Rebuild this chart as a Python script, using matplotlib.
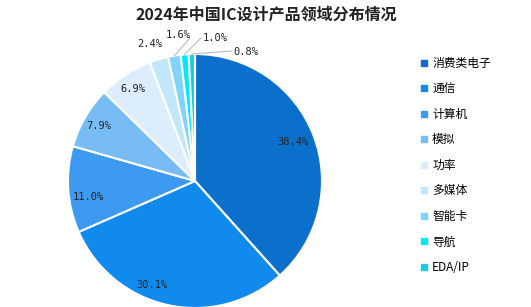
import numpy as np
import matplotlib.pyplot as plt
from matplotlib.lines import Line2D

plt.rcParams['font.family'] = ['Noto Sans CJK SC', 'DejaVu Sans']

# 数据
categories = ['消费类电子', '通信', '计算机', '模拟', '功率', '多媒体', '智能卡', '导航', 'EDA/IP']
values = [38.4, 30.1, 11.0, 7.9, 6.9, 2.4, 1.6, 1.0, 0.8]
colors = ['#0B70CC', '#118AEE', '#3C9BF0', '#78BCF6', '#DCEEFD',
          '#C2E6FA', '#7ED4FA', '#00E8FA', '#18CDE6']

W, H = 531, 307
fig = plt.figure(figsize=(W / 100, H / 100), dpi=100)

# 饼图区域 (中心 195,181 像素, 半径 127)
cx, cy, r = 195, 181, 127
ax = fig.add_axes([(cx - r) / W, (H - cy - r) / H, 2 * r / W, 2 * r / H])
wedges, _ = ax.pie(values, colors=colors, startangle=90, counterclock=False,
                   radius=1, wedgeprops=dict(edgecolor='white', linewidth=1.5))
ax.set_xlim(-1, 1)
ax.set_ylim(-1, 1)
ax.set_aspect('equal')
ax.axis('off')

mono = 'DejaVu Sans Mono'
total = sum(values)
cum = np.cumsum([0] + values[:-1])
mids = [90 - (c + v / 2) / total * 360 for c, v in zip(cum, values)]


def px(x, y):
    return (x - cx) / r, (cy - y) / r


# 大扇区：内部标签 (像素位置)
inner_pos = [px(293, 142), px(152, 285), px(88, 197), px(99, 126), px(133, 89)]
for v, (x, y) in zip(values[:5], inner_pos):
    ax.text(x, y, f'{v:.1f}%', ha='center', va='center',
            fontsize=7.5, family=mono, color='#222222')

# 小扇区：外部标签与引线
small_pos = [px(150, 44), px(178, 35), px(203, 38), px(233, 52)]
small_ha = ['center', 'center', 'left', 'left']
line_end = [px(165, 50), px(190, 38), px(201, 38), px(231, 51)]
for i, v in enumerate(values[5:]):
    a = np.deg2rad(mids[5 + i])
    ex, ey = np.cos(a), np.sin(a)
    lx, ly = line_end[i]
    if i > 0:
        ax.plot([ex, lx], [ey, ly], color='#bbbbbb', lw=0.8, clip_on=False)
    ax.text(small_pos[i][0], small_pos[i][1], f'{v:.1f}%', ha=small_ha[i], va='center',
            fontsize=7.5, family=mono, color='#222222', clip_on=False)

# 标题
fig.text(266 / W, 1 - 15 / H, '2024年中国IC设计产品领域分布情况', ha='center', va='center',
         fontsize=11.5, fontweight='bold', color='#222222')

# 图例
handles = [Line2D([], [], marker='s', linestyle='none', markersize=5,
                  markerfacecolor=c, markeredgecolor=c) for c in colors]
fig.legend(handles, categories, loc='upper left', bbox_to_anchor=(412 / W, 1 - 51 / H),
           frameon=False, fontsize=8.5, labelspacing=1.06, handletextpad=0.2,
           handlelength=1.0, borderpad=0)

fig.savefig('out.png', dpi=100)
